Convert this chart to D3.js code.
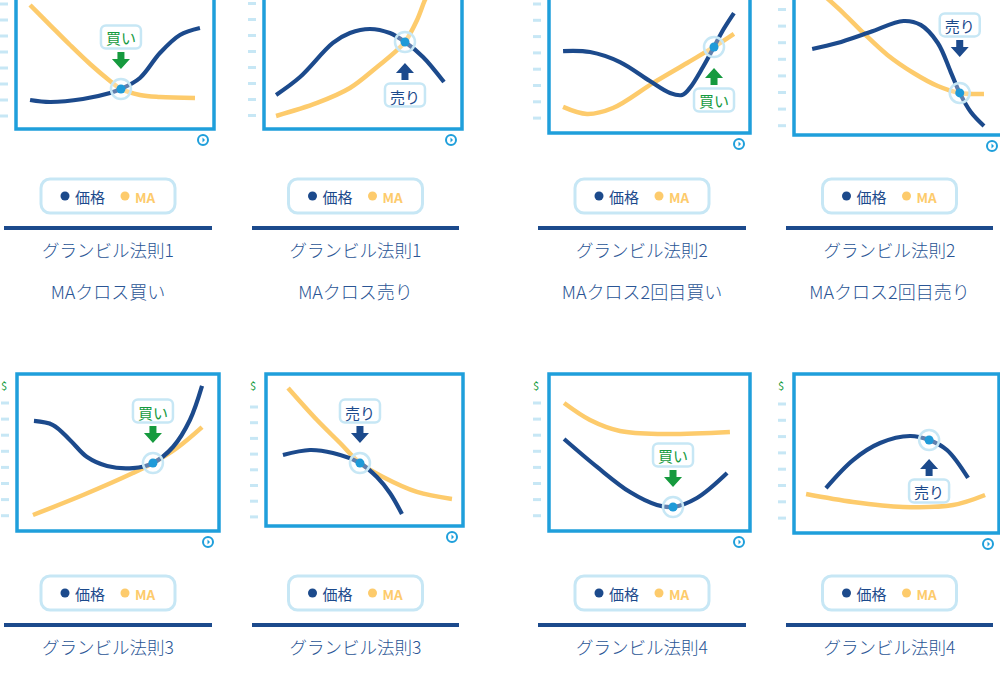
<!DOCTYPE html>
<html><head><meta charset="utf-8">
<script src="https://cdn.jsdelivr.net/npm/d3@7"></script>
<style>
body{margin:0;background:#fff}
svg{display:block}
text{font-family:"Noto Sans CJK JP","Noto Sans",sans-serif}
</style>
</head><body>
<svg id="c" width="1000" height="675"></svg>
<script>
// ---- data (x: % of time span, y: % of price span) ----
const titles = ["グランビル法則1","グランビル法則1","グランビル法則2","グランビル法則2",
                "グランビル法則3","グランビル法則3","グランビル法則4","グランビル法則4"];
const subtitles = ["MAクロス買い","MAクロス売り","MAクロス2回目買い","MAクロス2回目売り","","","",""];
const legendLabels = ["価格","MA"];
const signalTypes = ["買い","売り","買い","売り","買い","売り","買い","売り"];
const labelSides = ["above","below","below","above","above","above","above","below"];

const price1 = [[7.1,18.5],[17.2,17.2],[33.8,19.1],[47.5,22.9],[53.0,25.5],[62.6,32.5],[72.7,48.4],[82.8,59.9],[92.9,64.3]];
const ma1    = [[7.1,79.0],[17.2,66.2],[27.3,53.5],[37.4,41.4],[47.5,30.6],[53.0,25.5],[62.6,21.7],[72.7,20.4],[90.4,19.7]];
const price2 = [[6.1,21.7],[18.2,33.1],[34.8,54.8],[43.4,61.1],[53.5,63.7],[63.6,61.1],[71.2,55.4],[80.3,45.9],[90.9,29.9]];
const ma2    = [[6.1,8.3],[26.8,16.6],[43.4,26.1],[57.1,39.5],[67.2,50.3],[71.2,55.4],[77.3,69.4],[81.3,82.2],[84.3,89.8]];
const price3 = [[7.0,52.2],[20.4,51.6],[35.3,45.2],[50.2,33.1],[60.2,25.5],[66.2,24.2],[70.1,28.7],[76.6,42.0],[82.1,54.8],[86.6,65.6],[92.0,76.4]];
const ma3    = [[7.0,16.6],[18.9,12.1],[31.8,15.9],[51.7,31.8],[68.7,44.6],[82.1,54.8],[92.0,63.1]];
const price4 = [[8.7,54.8],[20.7,58.6],[36.5,65.6],[52.4,72.6],[60.6,70.1],[68.8,58.6],[75.0,40.1],[79.3,26.8],[84.6,14.6],[90.9,5.7]];
const ma4    = [[12.5,91.1],[23.6,77.7],[33.2,65.0],[44.7,51.0],[57.2,39.5],[68.8,31.2],[79.3,26.8],[90.9,26.1]];
const price5 = [[8.4,70.1],[17.8,67.5],[26.2,58.0],[34.7,47.1],[44.6,41.4],[57.4,40.1],[67.3,43.3],[77.2,53.5],[85.6,70.7],[91.6,92.4]];
const ma5    = [[7.9,10.2],[32.7,22.9],[57.4,36.9],[67.3,43.3],[79.2,52.9],[91.6,66.2]];
const price6 = [[8.6,46.7],[22.3,50.0],[34.0,48.0],[47.7,41.4],[56.3,32.2],[62.9,21.7],[69.0,7.9]];
const ma6    = [[11.2,90.8],[25.9,69.7],[37.6,54.6],[47.7,41.4],[59.4,32.2],[76.6,22.4],[94.4,17.8]];
const price7 = [[7.5,58.6],[23.9,40.8],[40.3,24.8],[53.7,16.6],[61.7,15.3],[73.6,21.0],[88.6,36.9]];
const ma7    = [[7.5,81.5],[20.4,70.7],[35.3,63.7],[56.7,61.8],[90.0,63.1]];
const price8 = [[15.6,28.3],[28.8,45.9],[42.0,56.6],[56.6,61.0],[65.9,58.5],[74.6,52.2],[84.9,34.6]];
const ma8    = [[5.9,24.5],[28.8,19.5],[53.2,16.4],[77.6,17.6],[93.2,23.9]];
const signalPoints = [[53.0,25.5],[71.2,55.4],[82.1,54.8],[79.3,26.8],[67.3,43.3],[47.7,41.4],[61.7,15.3],[65.9,58.5]];

const priceSeries = [price1,price2,price3,price4,price5,price6,price7,price8];
const maSeries = [ma1,ma2,ma3,ma4,ma5,ma6,ma7,ma8];

// ---- layout ----
const layout = [
  {L:16, R:214, T:-28,B:129,col:0,row:0,t0:4,  ts:16,  gap:0},
  {L:264,R:462, T:-28,B:129,col:1,row:0,t0:3.5,ts:16,  gap:1},
  {L:549,R:750, T:-24,B:133,col:2,row:0,t0:4,  ts:16.3,gap:1},
  {L:794,R:1003,T:-22,B:135,col:3,row:0,t0:9.5,ts:16.6,gap:16},
  {L:17, R:219, T:374,B:531,col:0,row:1,t0:403,ts:16.1,gap:0},
  {L:266,R:463, T:374,B:526,col:1,row:1,t0:407,ts:15.7,gap:0},
  {L:549,R:750, T:374,B:531,col:2,row:1,t0:403,ts:16.1,gap:0},
  {L:794,R:999, T:374,B:533,col:3,row:1,t0:404,ts:16.3,gap:-1}
];
const cols = [{x1:4,x2:212},{x1:252,x2:459},{x1:538,x2:746},{x1:786,x2:993}];
const rows = [{legend:179,divider:228,title:249,sub:291},{legend:576,divider:625,title:646,sub:688}];

const C = {navy:"#1c4a8c", yellow:"#fdcb6c", frame:"#1f9fdb", light:"#c7e7f5",
           green:"#169a3e", dot:"#1f9ad8", text:"#2a5595"};

const svg = d3.select("#c");

layout.forEach((lay,i)=>{
  const x = d3.scaleLinear().domain([0,100]).range([lay.L, lay.R]);
  const y = d3.scaleLinear().domain([0,100]).range([lay.B, lay.T]);
  const g = svg.append("g");

  // tick dashes
  g.selectAll("line.tk").data(d3.range(8)).join("line").attr("class","tk")
    .attr("x1", lay.L-16).attr("x2", lay.L-8)
    .attr("y1", k=>lay.t0 + k*lay.ts).attr("y2", k=>lay.t0 + k*lay.ts)
    .attr("stroke", C.light).attr("stroke-width", 3);
  if (lay.T + 16 > 12) {
    g.append("text").attr("x", lay.L-13).attr("y", lay.T+16)
      .attr("text-anchor","middle").attr("font-size",11).attr("fill",C.green).text("$");
  }

  // frame
  g.append("rect").attr("x", lay.L).attr("y", lay.T)
    .attr("width", lay.R-lay.L).attr("height", lay.B-lay.T)
    .attr("fill","#fff").attr("stroke",C.frame).attr("stroke-width",3.5);

  // clock icon
  const ck = g.append("g").attr("transform",`translate(${lay.R-11},${lay.B+11})`);
  ck.append("circle").attr("r",5).attr("fill","#fff").attr("stroke",C.frame).attr("stroke-width",2);
  ck.append("path").attr("d","M-0.5,-2.5 L2,0 L-0.5,2.5 Z").attr("fill",C.frame);

  // series
  const line = d3.line().x(d=>x(d[0])).y(d=>y(d[1])).curve(d3.curveCatmullRom.alpha(0.5));
  const clipId = "clip"+i;
  svg.append("clipPath").attr("id",clipId).append("rect")
    .attr("x",lay.L+2).attr("y",lay.T+2).attr("width",lay.R-lay.L-4).attr("height",lay.B-lay.T-4);
  const lg = g.append("g").attr("clip-path",`url(#${clipId})`);
  lg.append("path").datum(maSeries[i]).attr("d",line).attr("fill","none")
    .attr("stroke",C.yellow).attr("stroke-width",4.5).attr("stroke-linecap","butt");
  lg.append("path").datum(priceSeries[i]).attr("d",line).attr("fill","none")
    .attr("stroke",C.navy).attr("stroke-width",4.2).attr("stroke-linecap","butt");

  // signal marker
  const sp = signalPoints[i];
  const px = x(sp[0]), py = y(sp[1]);
  g.append("circle").attr("cx",px).attr("cy",py).attr("r",10)
    .attr("fill","rgba(255,255,255,0.3)").attr("stroke",C.light).attr("stroke-width",2.5);
  g.append("circle").attr("cx",px).attr("cy",py).attr("r",4.5).attr("fill",C.dot);

  const buy = signalTypes[i]==="買い";
  const col = buy ? C.green : C.navy;
  const dir = labelSides[i]==="above" ? -1 : 1;
  const tipY = py + dir*(20+lay.gap), baseY = py + dir*(37+lay.gap);
  const s = Math.sign(tipY-baseY);
  const neck = tipY - s*10;
  const pts = [[px-3.5,baseY],[px+3.5,baseY],[px+3.5,neck],[px+9,neck],[px,tipY],[px-9,neck],[px-3.5,neck]];
  g.append("path").attr("d","M"+pts.map(p=>p.join(",")).join("L")+"Z").attr("fill",col);

  const ly = py + dir*(52+lay.gap);
  g.append("rect").attr("x",px-20).attr("y",ly-11.5).attr("width",40).attr("height",23)
    .attr("rx",5).attr("fill","#fff").attr("stroke",C.light).attr("stroke-width",2.5);
  g.append("text").attr("x",px).attr("y",ly+1).attr("text-anchor","middle")
    .attr("dominant-baseline","central").attr("font-size",15).attr("fill",col).text(signalTypes[i]);

  // legend
  const c = cols[lay.col], r = rows[lay.row];
  const cx = (c.x1+c.x2)/2;
  const lgd = g.append("g").attr("transform",`translate(${cx-67},${r.legend})`);
  lgd.append("rect").attr("width",134).attr("height",34).attr("rx",9)
    .attr("fill","#fff").attr("stroke",C.light).attr("stroke-width",3);
  lgd.append("circle").attr("cx",24).attr("cy",17).attr("r",4.5).attr("fill",C.navy);
  lgd.append("text").attr("x",34).attr("y",17).attr("dominant-baseline","central")
    .attr("font-size",15).attr("fill",C.navy).text(legendLabels[0]);
  lgd.append("circle").attr("cx",84).attr("cy",17).attr("r",4.5).attr("fill",C.yellow);
  lgd.append("text").attr("x",94).attr("y",18).attr("dominant-baseline","central")
    .attr("font-size",13.5).attr("font-weight","bold").attr("fill",C.yellow).text(legendLabels[1]);

  // divider + titles
  g.append("line").attr("x1",c.x1).attr("x2",c.x2).attr("y1",r.divider).attr("y2",r.divider)
    .attr("stroke",C.navy).attr("stroke-width",4);
  g.append("text").attr("x",cx).attr("y",r.title).attr("text-anchor","middle")
    .attr("dominant-baseline","central").attr("font-size",17.5).attr("font-weight",300)
    .attr("fill",C.text).text(titles[i]);
  if (subtitles[i]) {
    g.append("text").attr("x",cx).attr("y",r.sub).attr("text-anchor","middle")
      .attr("dominant-baseline","central").attr("font-size",18).attr("font-weight",300)
      .attr("fill",C.text).text(subtitles[i]);
  }
});
</script>
</body></html>
